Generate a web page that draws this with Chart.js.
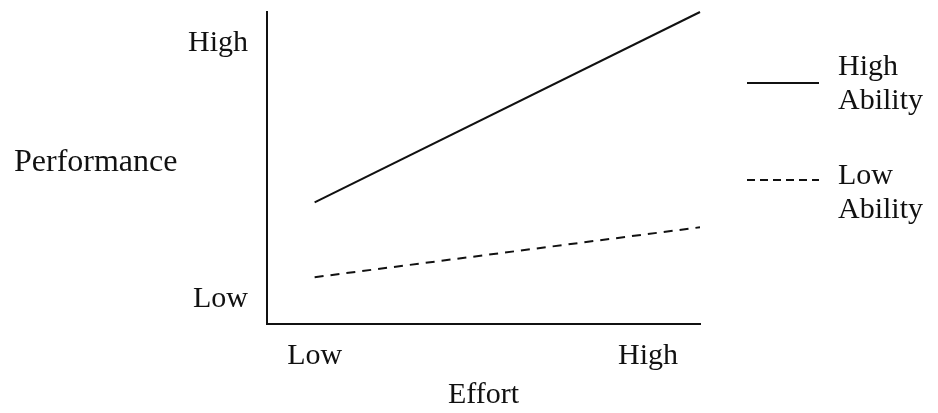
<!DOCTYPE html>
<html>
<head>
<meta charset="utf-8">
<script src="https://cdn.jsdelivr.net/npm/chart.js@4"></script>
<style>
  html, body { margin: 0; padding: 0; background: #fff; }
  #wrap { width: 938px; height: 413px; position: relative; }
</style>
</head>
<body>
<div id="wrap"><canvas id="effortChart"></canvas></div>
<script>
// ===== DATA =====
const effortLevels = [11, 100];          // x positions of line ends (0-100 effort scale)
const highAbility = [39, 100];           // performance, high ability
const lowAbility = [15, 31];             // performance, low ability
const xTickValues = [11, 88];
const xTickLabels = ['Low', 'High'];
const yTickValues = [8, 90];
const yTickLabels = ['Low', 'High'];
const seriesNames = [['High', 'Ability'], ['Low', 'Ability']];

const INK = '#111';
const FAMILY = '"Liberation Serif", "Times New Roman", serif';
const FONT = { family: FAMILY, size: 30 };

const toPoints = ys => ys.map((y, i) => ({ x: effortLevels[i], y }));

// ===== horizontal y-title + two-line legend =====
const sideText = {
  id: 'sideText',
  afterDraw(chart) {
    const ctx = chart.ctx;
    ctx.save();
    ctx.fillStyle = INK;
    ctx.strokeStyle = INK;
    ctx.textBaseline = 'middle';
    ctx.textAlign = 'left';
    ctx.font = '32px ' + FAMILY;
    ctx.fillText('Performance', 14, 163);

    ctx.font = FONT.size + 'px ' + FAMILY;
    const rows = [{ lineY: 83, textY: 67 }, { lineY: 180, textY: 176 }];
    chart.data.datasets.forEach((ds, i) => {
      const r = rows[i];
      ctx.lineWidth = 2;
      ctx.setLineDash(i === 0 ? [] : [8, 5]);
      ctx.beginPath();
      ctx.moveTo(747, r.lineY);
      ctx.lineTo(819, r.lineY);
      ctx.stroke();
      ctx.setLineDash([]);
      seriesNames[i].forEach((t, k) => ctx.fillText(t, 838, r.textY + k * 34));
    });
    ctx.restore();
  }
};

new Chart(document.getElementById('effortChart'), {
  type: 'line',
  data: {
    datasets: [
      { label: 'High Ability', data: toPoints(highAbility), borderColor: INK, borderWidth: 2, pointRadius: 0, clip: false },
      { label: 'Low Ability', data: toPoints(lowAbility), borderColor: INK, borderWidth: 2, borderDash: [9, 7], pointRadius: 0, clip: false }
    ]
  },
  options: {
    responsive: true, maintainAspectRatio: false, animation: false,
    layout: { padding: { left: 167, right: 238, top: 12, bottom: 0 } },
    plugins: { legend: { display: false }, tooltip: { enabled: false } },
    scales: {
      x: {
        type: 'linear', min: 0, max: 100,
        grid: { display: false, drawTicks: false },
        border: { display: true, color: INK, width: 2 },
        afterBuildTicks: s => { s.ticks = xTickValues.map(v => ({ value: v })); },
        afterFit: s => { s.height = 89; s.paddingLeft = 0; s.paddingRight = 0; },
        ticks: { color: INK, font: FONT, padding: 14, maxRotation: 0, autoSkip: false,
                 callback: (v, i) => xTickLabels[i] },
        title: { display: true, text: 'Effort', color: INK, font: FONT, padding: { top: 0, bottom: 0 } }
      },
      y: {
        min: 0, max: 100,
        grid: { display: false, drawTicks: false },
        border: { display: true, color: INK, width: 2 },
        afterBuildTicks: s => { s.ticks = yTickValues.map(v => ({ value: v })); },
        afterFit: s => { s.width = 100; s.paddingTop = 0; s.paddingBottom = 0; },
        ticks: { color: INK, font: FONT, padding: 19, autoSkip: false,
                 callback: (v, i) => yTickLabels[i] }
      }
    }
  },
  plugins: [sideText]
});
</script>
</body>
</html>
